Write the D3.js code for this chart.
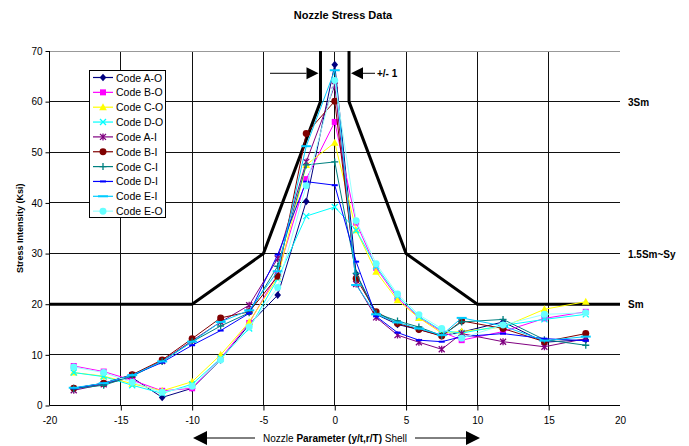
<!DOCTYPE html>
<html lang="en">
<head>
  <meta charset="UTF-8">
  <title>Nozzle Stress Data</title>
  <style>
    body { margin: 0; background: #fff; }
    svg { font-family: Arial, "Liberation Sans", sans-serif; }
  </style>
  <script src="https://d3js.org/d3.v7.min.js"></script>
</head>
<body>
  <svg id="chart" width="689" height="446"></svg>
  <script>
    // x positions shared by every series
    const xVals = [-18.3, -16.2, -14.2, -12.1, -10, -8, -6, -4, -2, 0, 1.5, 2.9, 4.4, 5.9, 7.5, 8.9, 11.8, 14.7, 17.6];

    const seriesNames = ['Code A-O', 'Code B-O', 'Code C-O', 'Code D-O', 'Code A-I', 'Code B-I', 'Code C-I', 'Code D-I', 'Code E-I', 'Code E-O'];

    const codeAO = [3.4, 4.3, 5.5, 1.6, 3.4, 9.0, 16.0, 21.8, 40.3, 67.3, 26.0, 18.0, 16.0, 15.0, 13.8, 14.5, 16.5, 12.5, 13.0];
    const codeBO = [7.8, 6.7, 5.0, 2.9, 3.4, 9.3, 16.3, 26.0, 44.7, 56.0, 36.1, 27.2, 21.2, 17.4, 14.6, 12.9, 14.6, 17.2, 18.5];
    const codeCO = [6.5, 5.8, 4.3, 2.9, 4.7, 10.0, 16.5, 25.3, 47.5, 51.9, 34.6, 26.4, 20.8, 17.3, 14.3, 14.6, 15.5, 19.0, 20.5];
    const codeDO = [6.5, 5.7, 4.0, 2.4, 4.2, 9.3, 15.2, 25.0, 37.4, 39.2, 34.6, 27.5, 21.6, 17.6, 14.8, 14.3, 15.8, 17.0, 18.0];
    const codeAI = [3.0, 4.2, 6.0, 8.8, 12.8, 16.5, 19.8, 29.0, 48.1, 63.2, 24.0, 17.4, 13.9, 12.5, 11.1, 14.2, 12.6, 11.6, 13.2];
    const codeBI = [3.4, 4.4, 6.1, 9.0, 13.2, 17.3, 18.5, 25.5, 53.7, 60.1, 25.1, 18.5, 16.2, 15.0, 13.7, 16.7, 15.2, 12.6, 14.2];
    const codeCI = [3.3, 4.0, 5.8, 8.7, 12.6, 15.7, 18.3, 27.5, 47.5, 48.1, 26.1, 18.2, 16.7, 15.5, 13.8, 16.5, 17.0, 13.0, 11.9];
    const codeDI = [3.4, 4.4, 6.0, 8.5, 11.9, 14.8, 18.2, 29.8, 44.2, 43.5, 28.4, 17.6, 14.4, 12.9, 12.6, 13.6, 14.2, 13.2, 12.8];
    const codeEI = [3.5, 4.4, 6.0, 8.7, 12.6, 16.5, 18.8, 26.5, 51.2, 66.2, 23.8, 18.0, 16.4, 15.2, 13.9, 17.3, 15.7, 12.8, 13.6];
    const codeEO = [7.6, 6.5, 4.6, 2.6, 3.8, 9.0, 15.5, 23.3, 43.4, 64.2, 36.5, 28.0, 22.0, 17.9, 15.2, 13.3, 15.9, 18.0, 18.3];

    const seriesValues = [codeAO, codeBO, codeCO, codeDO, codeAI, codeBI, codeCI, codeDI, codeEI, codeEO];
    const seriesColors = ['#000080', '#ff00ff', '#ffff00', '#00ffff', '#800080', '#800000', '#008080', '#0000ff', '#00ccff', '#99ffff'];
    const markerFills = ['#000080', '#ff00ff', '#ffff00', '#00ffff', '#800080', '#800000', '#008080', '#0000ff', '#00ccff', '#66ffff'];
    const markerTypes = ['diamond', 'square', 'triangle', 'x', 'star', 'circle', 'plus', 'dash', 'longdash', 'circle'];

    // allowable stress limit envelope (thick black line)
    const limitLeftX = [-20, -10, -5, -1, -1];
    const limitLeftY = [20, 20, 30, 60, 70];
    const limitRightX = [1, 1, 5, 10, 20];
    const limitRightY = [70, 60, 30, 20, 20];
    const limitLabels = ['3Sm', '1.5Sm~Sy', 'Sm'];
    const limitLabelY = [60, 30, 20];

    const xTicks = [-20, -15, -10, -5, 0, 5, 10, 15, 20];
    const yTicks = [0, 10, 20, 30, 40, 50, 60, 70];

    const svg = d3.select('#chart');
    const x = d3.scaleLinear().domain([-20, 20]).range([49.5, 620]);
    const y = d3.scaleLinear().domain([0, 70]).range([405.5, 51]);

    // title
    svg.append('text')
      .attr('x', 343).attr('y', 19)
      .attr('text-anchor', 'middle')
      .attr('font-size', 11).attr('font-weight', 'bold')
      .text('Nozzle Stress Data');

    // grid
    const grid = svg.append('g').attr('stroke', '#111').attr('stroke-width', 1).attr('shape-rendering', 'crispEdges');
    grid.selectAll('line.h')
      .data(yTicks.filter(d => d > 0 && d < 70))
      .enter().append('line')
      .attr('x1', x(-20)).attr('x2', x(20))
      .attr('y1', d => y(d)).attr('y2', d => y(d));
    grid.selectAll('line.v')
      .data(xTicks.filter(d => d > -20 && d < 20))
      .enter().append('line')
      .attr('x1', d => x(d)).attr('x2', d => x(d))
      .attr('y1', y(0)).attr('y2', y(70));
    svg.append('line')
      .attr('x1', x(-20)).attr('x2', x(20))
      .attr('y1', y(70)).attr('y2', y(70))
      .attr('stroke', '#999').attr('shape-rendering', 'crispEdges');

    // axes (plain hyphen minus like the original)
    const fmt = d => String(d);
    const xAxis = svg.append('g')
      .attr('transform', `translate(0,${y(0)})`)
      .call(d3.axisBottom(x).tickValues(xTicks).tickFormat(fmt).tickSize(5).tickPadding(6));
    const yAxis = svg.append('g')
      .attr('transform', `translate(${x(-20)},0)`)
      .call(d3.axisLeft(y).tickValues(yTicks).tickFormat(fmt).tickSize(4).tickPadding(3));
    [xAxis, yAxis].forEach(g => {
      g.select('.domain').attr('stroke', '#000');
      g.selectAll('line').attr('stroke', '#000');
      g.selectAll('text').attr('font-size', 10).attr('font-family', 'Arial, "Liberation Sans", sans-serif');
    });
    xAxis.selectAll('.tick').filter(d => d === -20 || d === 20).select('line').remove();
    xAxis.select('.domain').attr('d', `M${x(-20)},0H${x(20)}`);
    yAxis.select('.domain').attr('d', `M0,${y(0)}V${y(70)}`);

    // y axis title
    svg.append('text')
      .attr('transform', `translate(23,${y(35)}) rotate(-90)`)
      .attr('text-anchor', 'middle')
      .attr('font-size', 9).attr('font-weight', 'bold')
      .text('Stress Intensity (Ksi)');

    // limit envelope
    const envLine = d3.line().x(d => x(d[0])).y(d => y(d[1]));
    [d3.zip(limitLeftX, limitLeftY), d3.zip(limitRightX, limitRightY)].forEach(pts => {
      svg.append('path')
        .datum(pts)
        .attr('d', envLine)
        .attr('fill', 'none')
        .attr('stroke', '#000')
        .attr('stroke-width', 3);
    });
    svg.selectAll('text.limit')
      .data(limitLabels)
      .enter().append('text')
      .attr('x', 628)
      .attr('y', (d, i) => y(limitLabelY[i]) + 4)
      .attr('font-size', 10).attr('font-weight', 'bold')
      .text(d => d);

    // +/- 1 arrows at top
    const arrowY = y(65.6);
    function arrow(x1, x2, yy, headLen, headW) {
      const dir = Math.sign(x2 - x1);
      svg.append('line')
        .attr('x1', x1).attr('x2', x2 - dir * headLen)
        .attr('y1', yy).attr('y2', yy)
        .attr('stroke', '#000').attr('stroke-width', 1);
      svg.append('path')
        .attr('d', `M${x2},${yy}L${x2 - dir * headLen},${yy - headW}L${x2 - dir * headLen},${yy + headW}Z`)
        .attr('fill', '#000');
    }
    arrow(270, x(-1) - 2, arrowY, 12, 6);
    arrow(375, x(1) + 2, arrowY, 12, 6);
    svg.append('text')
      .attr('x', 377).attr('y', arrowY + 4)
      .attr('font-size', 10).attr('font-weight', 'bold')
      .text('+/- 1');

    // series
    const line = d3.line().x(d => x(d[0])).y(d => y(d[1]));
    const symbolPath = (type) => {
      switch (type) {
        case 'diamond': return 'M0,-3.8L3.3,0L0,3.8L-3.3,0Z';
        case 'square': return 'M-3,-3H3V3H-3Z';
        case 'triangle': return 'M0,-4L3.8,3L-3.8,3Z';
        case 'circle': return d3.symbol(d3.symbolCircle, 38)();
        case 'x': return 'M-3,-3L3,3M3,-3L-3,3';
        case 'plus': return 'M-3.5,0H3.5M0,-3.5V3.5';
        case 'star': return 'M-3,-3L3,3M3,-3L-3,3M0,-3.5V3.5';
        case 'dash': return 'M-3,-1H3V1H-3Z';
        case 'longdash': return 'M-5,-1H5V1H-5Z';
      }
    };
    const isStroked = t => t === 'x' || t === 'plus' || t === 'star';

    seriesValues.forEach((vals, i) => {
      const pts = d3.zip(xVals, vals);
      const g = svg.append('g');
      g.append('path')
        .datum(pts)
        .attr('d', line)
        .attr('fill', 'none')
        .attr('stroke', seriesColors[i])
        .attr('stroke-width', 1);
      g.selectAll('path.m')
        .data(pts)
        .enter().append('path')
        .attr('transform', d => `translate(${x(d[0])},${y(d[1])})`)
        .attr('d', symbolPath(markerTypes[i]))
        .attr('fill', isStroked(markerTypes[i]) ? 'none' : markerFills[i])
        .attr('stroke', isStroked(markerTypes[i]) ? markerFills[i] : 'none')
        .attr('stroke-width', 1.3);
    });

    // legend
    const legend = svg.append('g').attr('transform', 'translate(89,70)');
    legend.append('rect')
      .attr('x', 0.5).attr('y', 0.5)
      .attr('width', 76).attr('height', 147)
      .attr('fill', '#fff').attr('stroke', '#000').attr('stroke-width', 1);
    const item = legend.selectAll('g.item')
      .data(seriesNames)
      .enter().append('g')
      .attr('transform', (d, i) => `translate(0,${7.5 + i * 14.85})`);
    item.append('line')
      .attr('x1', 4).attr('x2', 24)
      .attr('stroke', (d, i) => seriesColors[i]).attr('stroke-width', 1.2);
    item.append('path')
      .attr('transform', 'translate(14,0)')
      .attr('d', (d, i) => symbolPath(markerTypes[i]))
      .attr('fill', (d, i) => isStroked(markerTypes[i]) ? 'none' : markerFills[i])
      .attr('stroke', (d, i) => isStroked(markerTypes[i]) ? markerFills[i] : 'none')
      .attr('stroke-width', 1.3);
    item.append('text')
      .attr('x', 27).attr('y', 4)
      .attr('font-size', 10.5)
      .text(d => d);

    // bottom axis caption with arrows
    const capY = 438;
    arrow(255, 193, capY, 14, 7);
    arrow(415, 480, capY, 14, 7);
    const cap = svg.append('text')
      .attr('x', 335).attr('y', capY + 4)
      .attr('text-anchor', 'middle')
      .attr('font-size', 10);
    cap.append('tspan').text('Nozzle ');
    cap.append('tspan').attr('font-weight', 'bold').text('Parameter (y/t,r/T)');
    cap.append('tspan').text('  Shell');
  </script>
</body>
</html>
